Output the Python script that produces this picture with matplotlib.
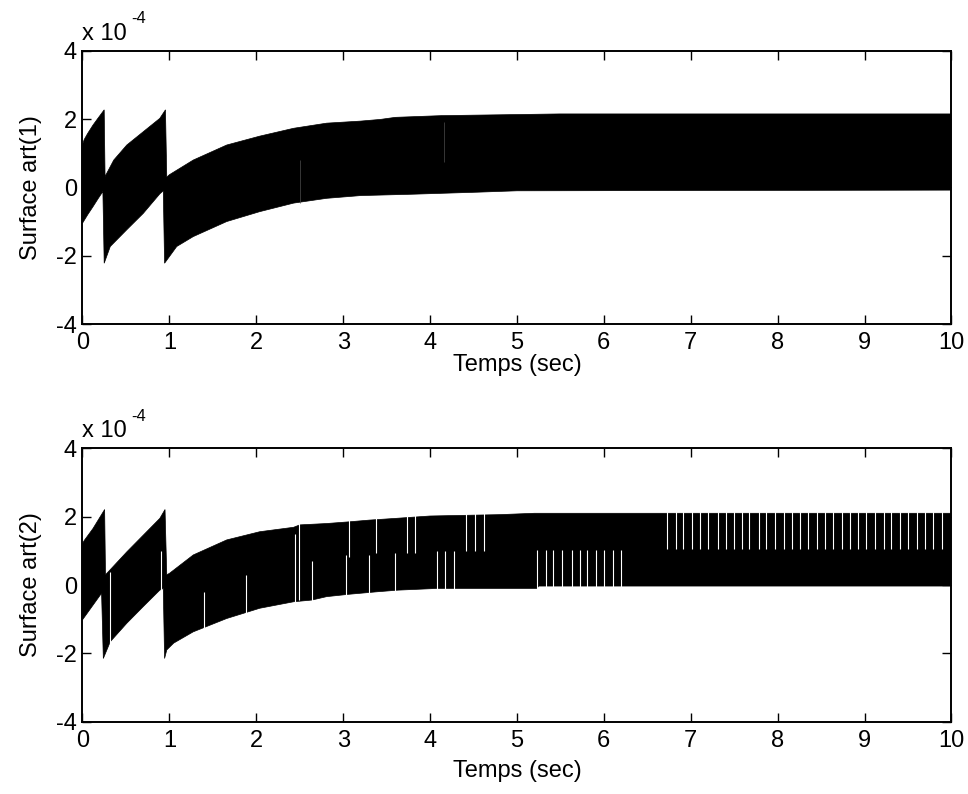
import matplotlib.pyplot as plt
import numpy as np

plt.rcParams["font.family"] = ["Liberation Sans", "DejaVu Sans"]
plt.rcParams["font.size"] = 17
plt.rcParams["axes.unicode_minus"] = False

# Chattering band of the two sliding surfaces (values in units of 1e-4).
# Upper and lower edges of the band, each with its own time base.
s1_up_t = [0.0, 0.02, 0.06, 0.12, 0.18, 0.25, 0.26, 0.36, 0.51, 0.70, 0.89, 0.955,
           0.97, 1.0, 1.275, 1.66, 2.04, 2.43, 2.81, 3.2, 3.43, 3.6, 4.13, 5.49, 10.0]
s1_up = [1.25, 1.40, 1.58, 1.82, 2.03, 2.27, 0.32, 0.80, 1.24, 1.63, 2.02, 2.27,
         0.30, 0.37, 0.80, 1.24, 1.50, 1.73, 1.88, 1.94, 1.99, 2.05, 2.10, 2.15, 2.15]
s1_lo_t = [0.0, 0.06, 0.12, 0.18, 0.235, 0.25, 0.32, 0.51, 0.70, 0.89, 0.93, 0.945,
           1.085, 1.275, 1.66, 2.04, 2.43, 2.81, 3.2, 3.8, 4.55, 5.0, 10.0]
s1_lo = [-1.05, -0.80, -0.57, -0.33, -0.12, -2.22, -1.73, -1.24, -0.76, -0.19, -0.10, -2.22,
         -1.73, -1.44, -1.00, -0.71, -0.46, -0.32, -0.24, -0.20, -0.14, -0.10, -0.08]

s2_up_t = [0.0, 0.025, 0.12, 0.255, 0.265, 0.51, 0.70, 0.89, 0.95, 0.97, 1.0, 1.275,
           1.66, 2.04, 2.43, 2.5, 2.81, 3.07, 3.3, 3.6, 4.0, 4.8, 5.2, 10.0]
s2_up = [1.22, 1.32, 1.65, 2.21, 0.30, 0.97, 1.46, 1.95, 2.21, 0.30, 0.34, 0.88,
         1.32, 1.56, 1.69, 1.76, 1.80, 1.85, 1.90, 1.95, 2.02, 2.06, 2.10, 2.10]
s2_lo_t = [0.0, 0.22, 0.24, 0.32, 0.51, 0.70, 0.89, 0.93, 0.945, 0.97, 1.05, 1.275,
           1.66, 2.04, 2.43, 2.64, 2.81, 3.07, 3.38, 3.63, 4.08, 5.23, 5.25, 10.0]
s2_lo = [-1.02, -0.24, -2.15, -1.66, -1.12, -0.63, -0.15, -0.10, -2.15, -1.90, -1.70, -1.37,
         -0.98, -0.68, -0.49, -0.44, -0.34, -0.27, -0.20, -0.15, -0.10, -0.10, -0.03, -0.03]

# instants where surface 2 stops switching for a moment (white gaps in the band)
gap_hi_t = [2.49, 3.07, 3.38, 3.74, 3.83, 4.41, 4.52, 4.62,
            6.73, 6.83, 6.91, 7.01, 7.11, 7.20, 7.31, 7.40, 7.50, 7.59, 7.67, 7.78,
            7.87, 7.97, 8.07, 8.16, 8.26, 8.35, 8.45, 8.55, 8.64, 8.74, 8.83, 8.93,
            9.02, 9.12, 9.22, 9.31, 9.41, 9.50, 9.60, 9.70, 9.79, 9.89]
gap_hi_end = [-0.45, 0.83, 0.93, 0.93, 0.93, 1.0, 1.0, 1.0,
              1.05, 1.05, 1.05, 1.05, 1.05, 1.05, 1.05, 1.05, 1.05, 1.05, 1.05, 1.05,
              1.05, 1.05, 1.05, 1.05, 1.05, 1.05, 1.05, 1.05, 1.05, 1.05, 1.05, 1.05,
              1.05, 1.05, 1.05, 1.05, 1.05, 1.05, 1.05, 1.05, 1.05, 1.05]
gap_lo_t = [0.32, 0.90, 1.40, 1.88, 2.45, 2.64, 3.03, 3.30, 3.60, 4.08, 4.17, 4.27,
            5.23, 5.33, 5.42, 5.52, 5.63, 5.72, 5.81, 5.91, 6.00, 6.11, 6.20]
gap_lo_end = [0.39, 1.0, -0.2, 0.29, 1.5, 0.70, 0.88, 0.88, 0.93, 1.0, 1.0, 1.0,
              1.02, 1.02, 1.02, 1.02, 1.02, 1.02, 1.02, 1.02, 1.02, 1.02, 1.02]

# faint traces inside the band of surface 1
trace1_t = [2.50, 4.16]
trace1_lo = [-0.45, 0.75]
trace1_hi = [0.80, 1.92]

x_ticks = [0, 1, 2, 3, 4, 5, 6, 7, 8, 9, 10]
y_ticks = [-4, -2, 0, 2, 4]


def draw_band(ax, up_t, up, lo_t, lo):
    xs = np.concatenate([up_t, lo_t[::-1]])
    ys = np.concatenate([up, lo[::-1]])
    ax.fill(xs, ys, facecolor="black", edgecolor="black", linewidth=0.5)


def style_axes(ax, ylabel, xlabelpad):
    ax.set_xlim(0, 10)
    ax.set_ylim(-4, 4)
    ax.set_xticks(x_ticks)
    ax.set_yticks(y_ticks)
    ax.tick_params(direction="in", top=True, right=True, length=6.5, width=1.0)
    ax.tick_params(axis="x", pad=6)
    ax.tick_params(axis="y", pad=4)
    for sp in ax.spines.values():
        sp.set_linewidth(1.4)
    ax.set_xlabel("Temps (sec)", labelpad=xlabelpad)
    ax.set_ylabel(ylabel, labelpad=10)
    ax.annotate("x 10", xy=(0, 1), xycoords="axes fraction", xytext=(0, 8),
                textcoords="offset points", ha="left", va="baseline")
    ax.annotate("-4", xy=(0, 1), xycoords="axes fraction", xytext=(35, 20),
                textcoords="offset points", ha="left", va="baseline", fontsize=12)


fig = plt.figure(figsize=(9.68, 7.94), dpi=100)
ax1 = fig.add_axes([0.0852, 0.5919, 0.8977, 0.3442])
ax2 = fig.add_axes([0.0852, 0.0911, 0.8977, 0.3442])

draw_band(ax1, s1_up_t, s1_up, s1_lo_t, s1_lo)
ax1.vlines(trace1_t, trace1_lo, trace1_hi, colors="0.3", linewidth=0.5)
style_axes(ax1, "Surface art(1)", 0)

draw_band(ax2, s2_up_t, s2_up, s2_lo_t, s2_lo)
ax2.vlines(gap_hi_t, gap_hi_end, 3.0, colors="white", linewidth=0.8)
ax2.vlines(gap_lo_t, -3.0, gap_lo_end, colors="white", linewidth=0.8)
style_axes(ax2, "Surface art(2)", 6)

plt.savefig("out.png", dpi=100)
plt.close()
